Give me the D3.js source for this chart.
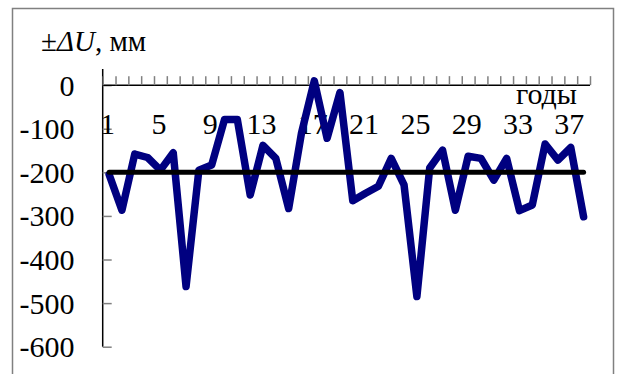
<!DOCTYPE html>
<html>
<head>
<meta charset="utf-8">
<script src="https://cdn.jsdelivr.net/npm/d3@7"></script>
<style>
  html, body { margin: 0; padding: 0; background: #fff; }
  svg { display: block; }
  text { font-family: "Liberation Serif", "Times New Roman", serif; fill: #000; }
</style>
</head>
<body>
<script>
const years = d3.range(1, 39);
const deltaU = [-205,-287,-158,-166,-195,-155,-462,-195,-183,-79,
                -79,-252,-138,-168,-283,-110,10,-122,-17,-265,
                -248,-232,-168,-229,-485,-190,-149,-287,-163,-168,
                -218,-168,-288,-275,-135,-172,-143,-302];
const meanLevel = -200;
const yTicks = [0, -100, -200, -300, -400, -500, -600];
const xLabelYears = [1, 5, 9, 13, 17, 21, 25, 29, 33, 37];
const yTitle = ["±", "ΔU", ", мм"];
const xTitle = "годы";

const W = 621, H = 374;
const svg = d3.select("body").append("svg").attr("width", W).attr("height", H);

// outer frame
svg.append("rect").attr("x", 12.5).attr("y", 8.5).attr("width", 601).attr("height", 380)
  .attr("fill", "none").attr("stroke", "#808080").attr("stroke-width", 1.5);

const x = d3.scaleBand().domain(years).range([102.7, 590]).paddingInner(0).paddingOuter(0);
const xc = d => x(d) + x.bandwidth() / 2;
const xb = d3.scaleLinear().domain([0.5, 38.5]).range([102.7, 590]);
const y = d3.scaleLinear().domain([-600, 37]).range([346.7, 69]);

// y axis
const yAxis = d3.axisRight(y).tickValues(yTicks).tickSize(9).tickFormat("");
const gy = svg.append("g").attr("transform", `translate(${x.range()[0]},0)`).call(yAxis);
gy.select(".domain").attr("stroke", "#000").attr("stroke-width", 1.5).attr("d", `M0,${y.range()[1]}V${y.range()[0]}`);
gy.selectAll(".tick line").attr("stroke", "#808080").attr("stroke-width", 1.5);

svg.append("g").selectAll("text").data(yTicks).join("text")
  .attr("x", 74.5).attr("y", d => y(d)).attr("dy", "0.35em")
  .attr("text-anchor", "end").attr("font-size", 30)
  .text(d => d === 0 ? "0" : String(d));

// x axis (at zero), ticks upward at band boundaries
const xAxis = d3.axisTop(xb).tickValues(d3.range(0.5, 39, 1)).tickSize(9).tickFormat("");
const gx = svg.append("g").attr("transform", `translate(0,${y(0)})`).call(xAxis);
gx.select(".domain").attr("stroke", "#000").attr("stroke-width", 1.5).attr("d", `M${xb.range()[0]},0H${xb.range()[1]}`);
gx.selectAll(".tick line").attr("stroke", "#808080").attr("stroke-width", 1.5);

svg.append("g").selectAll("text").data(xLabelYears).join("text")
  .attr("x", d => xc(d) - 1.5).attr("y", 134)
  .attr("text-anchor", "middle").attr("font-size", 30)
  .text(d => d);

svg.append("text").attr("x", 577).attr("y", 104).attr("text-anchor", "end")
  .attr("font-size", 30).text(xTitle);

// y title
const yt = svg.append("text").attr("x", 41).attr("y", 50.5).attr("font-size", 29);
yt.append("tspan").text(yTitle[0]);
yt.append("tspan").attr("font-style", "italic").text(yTitle[1]);
yt.append("tspan").text(yTitle[2]);

// data line
const line = d3.line().x((d, i) => xc(years[i])).y(d => y(d));
svg.append("path").datum(deltaU).attr("d", line)
  .attr("fill", "none").attr("stroke", "#000080").attr("stroke-width", 7.5)
  .attr("stroke-linejoin", "round").attr("stroke-linecap", "round");

// mean level line
svg.append("path").datum(years.map(() => meanLevel)).attr("d", line)
  .attr("fill", "none").attr("stroke", "#000").attr("stroke-width", 5)
  .attr("stroke-linecap", "round");
</script>
</body>
</html>
